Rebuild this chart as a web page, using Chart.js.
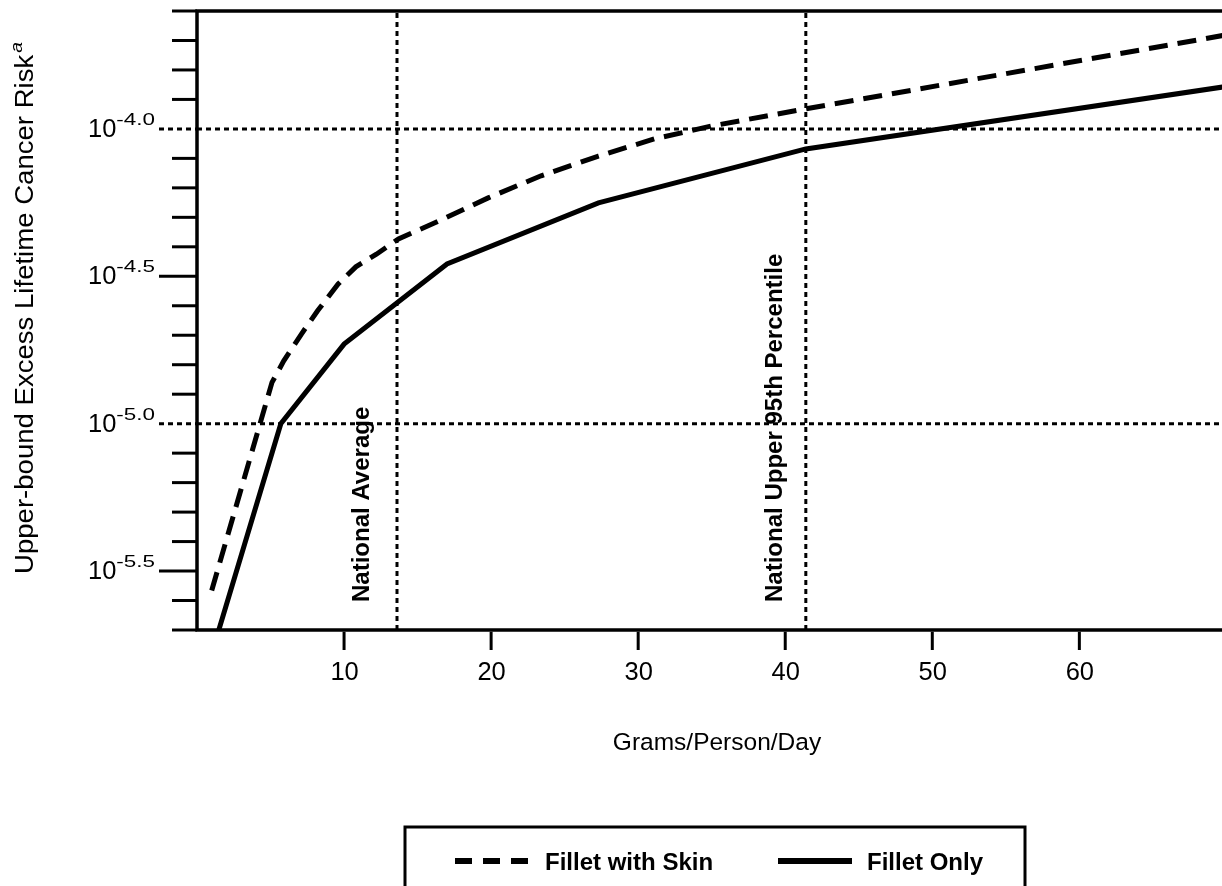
<!DOCTYPE html>
<html>
<head>
<meta charset="utf-8">
<script src="https://cdn.jsdelivr.net/npm/chart.js@4.4.1/dist/chart.umd.min.js"></script>
<style>
html,body{margin:0;padding:0;background:#fff;overflow:hidden;}
canvas{display:block;}
</style>
</head>
<body>
<canvas id="c" width="1222" height="886"></canvas>
<script>
// ---- data (exponents are log10 of risk) ----
const skinGrams = [1, 5.1, 5.9, 7.1, 8.2, 9.6, 10.8, 12.2, 13.7, 16.1, 19.8, 23.4, 27.3, 31.1, 35.0, 41.4, 70];
const skinLogRisk = [-5.566, -4.86, -4.787, -4.696, -4.617, -4.526, -4.468, -4.425, -4.373, -4.32, -4.234, -4.159, -4.092, -4.034, -3.99, -3.932, -3.681];
const filletGrams = [1, 5.7, 10, 17, 27.3, 41.4, 70];
const filletLogRisk = [-5.78, -5.0, -4.73, -4.458, -4.251, -4.068, -3.856];
const seriesLabels = ['Fillet with Skin', 'Fillet Only'];

const refGrams = [13.6, 41.4];
const refGramLabels = ['National Average', 'National Upper 95th Percentile'];
const refLogRisk = [-4.0, -5.0];

const xTicks = [10, 20, 30, 40, 50, 60];
const xTickLabels = ['10', '20', '30', '40', '50', '60'];
const yTickExps = [-5.7, -5.6, -5.5, -5.4, -5.3, -5.2, -5.1, -5.0, -4.9, -4.8, -4.7, -4.6, -4.5, -4.4, -4.3, -4.2, -4.1, -4.0, -3.9, -3.8, -3.7, -3.6];
const yMajorExps = [-5.5, -5.0, -4.5, -4.0];
const yMajorBase = ['10', '10', '10', '10'];
const yMajorSup = ['-5.5', '-5.0', '-4.5', '-4.0'];

const xTitle = 'Grams/Person/Day';
const yTitle = 'Upper-bound Excess Lifetime Cancer Risk';
const yTitleSup = 'a';

const xMin = 0, xMax = 69.7;
const yMinExp = -5.7, yMaxExp = -3.6;

// ---- build ----
const pts = (xs, es) => xs.map((x, i) => ({x: x, y: Math.pow(10, es[i])}));
const FF = '"Liberation Sans", Arial, Helvetica, sans-serif';

const datasets = [
  {label: seriesLabels[0], data: pts(skinGrams, skinLogRisk), showLine: true, borderColor: '#000',
   borderWidth: 5, borderDash: [19, 10], pointRadius: 0, tension: 0, fill: false},
  {label: seriesLabels[1], data: pts(filletGrams, filletLogRisk), showLine: true, borderColor: '#000',
   borderWidth: 5, pointRadius: 0, tension: 0, fill: false}
];
refLogRisk.forEach(e => datasets.push({label: '_ref', data: [{x: xMin, y: Math.pow(10, e)}, {x: xMax, y: Math.pow(10, e)}],
  showLine: true, borderColor: '#000', borderWidth: 3, borderDash: [5, 4], pointRadius: 0}));
refGrams.forEach(g => datasets.push({label: '_ref', data: [{x: g, y: Math.pow(10, yMinExp)}, {x: g, y: Math.pow(10, yMaxExp)}],
  showLine: true, borderColor: '#000', borderWidth: 3, borderDash: [5, 4], pointRadius: 0}));

function txt(ctx, s, x, y, font, sx, align, rot) {
  ctx.save();
  ctx.translate(x, y);
  if (rot) ctx.rotate(rot);
  ctx.scale(sx, 1);
  ctx.font = font;
  ctx.textAlign = align || 'left';
  ctx.textBaseline = 'alphabetic';
  ctx.fillStyle = '#000';
  ctx.fillText(s, 0, 0);
  ctx.restore();
}
function tw(ctx, s, font, sx) { ctx.save(); ctx.font = font; const w = ctx.measureText(s).width * sx; ctx.restore(); return w; }
const near = (a, b) => Math.abs(a - b) < 1e-9;

const bg = {id: 'bg', beforeDraw(chart) {
  const c = chart.ctx; c.save(); c.fillStyle = '#fff'; c.fillRect(0, 0, chart.width, chart.height); c.restore();
}};

const frame = {id: 'frame', afterDraw(chart) {
  const ctx = chart.ctx;
  const a = chart.chartArea;
  const xs = chart.scales.x, ys = chart.scales.y;
  ctx.save();
  ctx.strokeStyle = '#000';
  ctx.lineCap = 'butt';
  // frame lines
  ctx.lineWidth = 3.5;
  ctx.beginPath();
  ctx.moveTo(a.left, a.top); ctx.lineTo(chart.width, a.top);
  ctx.moveTo(a.left, a.bottom); ctx.lineTo(chart.width, a.bottom);
  ctx.moveTo(a.left, a.top - 1.75); ctx.lineTo(a.left, a.bottom + 1.75);
  ctx.stroke();
  // y ticks
  yTickExps.forEach(e => {
    const py = ys.getPixelForValue(Math.pow(10, e));
    const major = yMajorExps.some(m => near(m, e));
    const dotted = refLogRisk.some(m => near(m, e));
    const len = major ? 38 : 25;
    ctx.lineWidth = 3;
    ctx.setLineDash(dotted ? [5, 4] : []);
    ctx.beginPath(); ctx.moveTo(a.left - len, py); ctx.lineTo(a.left, py); ctx.stroke();
  });
  ctx.setLineDash([]);
  // y labels
  const baseFont = '25px ' + FF, supFont = '17px ' + FF;
  yMajorExps.forEach((e, i) => {
    const py = ys.getPixelForValue(Math.pow(10, e));
    const supRight = a.left - 38 - 4;
    const sw = tw(ctx, yMajorSup[i], supFont, 1.32);
    txt(ctx, yMajorSup[i], supRight - sw, py - 4, supFont, 1.32, 'left');
    txt(ctx, yMajorBase[i], supRight - sw, py + 8, baseFont, 1.02, 'right');
  });
  // x ticks
  ctx.lineWidth = 3;
  xTicks.forEach((v, i) => {
    const px = xs.getPixelForValue(v);
    ctx.beginPath(); ctx.moveTo(px, a.bottom + 1.75); ctx.lineTo(px, a.bottom + 20); ctx.stroke();
    txt(ctx, xTickLabels[i], px + 0.5, a.bottom + 50, baseFont, 1.02, 'center');
  });
  // axis titles
  txt(ctx, xTitle, 717, 750, '24.5px ' + FF, 1.0, 'center');
  const yFont = '26px ' + FF;
  const ty = 574;
  const tlen = tw(ctx, yTitle, yFont, 1.06);
  txt(ctx, yTitle, 33, ty, yFont, 1.06, 'left', -Math.PI / 2);
  txt(ctx, yTitleSup, 22, ty - tlen - 2, 'italic 16px ' + FF, 1.2, 'left', -Math.PI / 2);
  // reference line labels
  const offs = [-28, -24];
  refGrams.forEach((g, i) => {
    const px = xs.getPixelForValue(g);
    txt(ctx, refGramLabels[i], px + offs[i], a.bottom - 28, 'bold 24.5px ' + FF, 0.98, 'left', -Math.PI / 2);
  });
  // legend
  ctx.lineWidth = 3;
  ctx.strokeRect(405, 827, 620, 90);
  const ly = 861;
  const ds = chart.data.datasets;
  ctx.lineWidth = 6;
  ctx.setLineDash([17, 11]);
  ctx.beginPath(); ctx.moveTo(455, ly); ctx.lineTo(533, ly); ctx.stroke();
  ctx.setLineDash([]);
  ctx.beginPath(); ctx.moveTo(778, ly); ctx.lineTo(852, ly); ctx.stroke();
  txt(ctx, ds[0].label, 545, ly + 9, 'bold 24.5px ' + FF, 0.98, 'left');
  txt(ctx, ds[1].label, 867, ly + 9, 'bold 24.5px ' + FF, 0.98, 'left');
  ctx.restore();
}};

new Chart(document.getElementById('c'), {
  type: 'scatter',
  data: {datasets: datasets},
  options: {
    responsive: false, animation: false, devicePixelRatio: 1, events: [],
    layout: {padding: {left: 197, right: 0, top: 11, bottom: 256}},
    scales: {
      x: {type: 'linear', min: xMin, max: xMax, display: false},
      y: {type: 'logarithmic', min: Math.pow(10, yMinExp), max: Math.pow(10, yMaxExp), display: false}
    },
    plugins: {legend: {display: false}, tooltip: {enabled: false}}
  },
  plugins: [bg, frame]
});
</script>
</body>
</html>
